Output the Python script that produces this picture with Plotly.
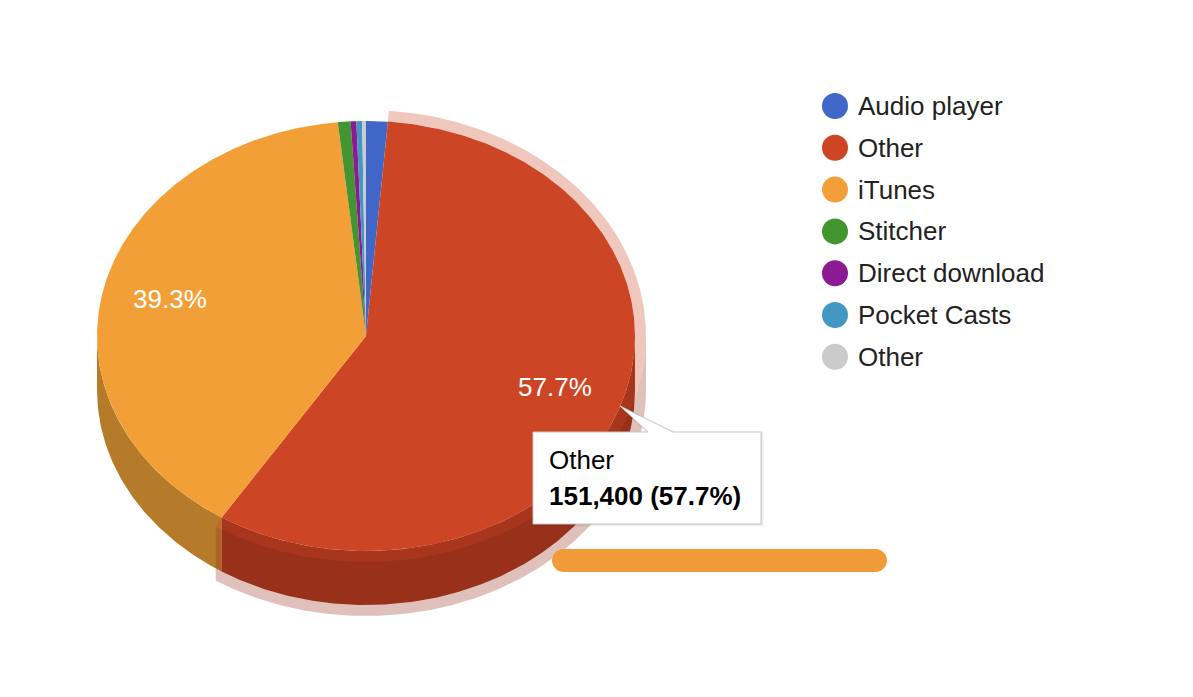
import numpy as np
import plotly.graph_objects as go

# ---- data ----
categories = ["Audio player", "Other", "iTunes", "Stitcher", "Direct download", "Pocket Casts", "Other"]
values = [3400, 151400, 103100, 2000, 900, 900, 600]
top_colors = ["#4066c8", "#cc4525", "#f39f38", "#43962f", "#8c1a92", "#4398c3", "#cbcbcb"]
wall_colors = ["#2d478c", "#98301a", "#b57b2a", "#2f691f", "#621266", "#2f6a88", "#8e8e8e"]
highlighted = 1
tooltip_lines = ["Other", "151,400 (57.7%)"]

# ---- geometry of the pseudo-3D pie (pixels) ----
W, H = 1193, 697
CX, CY, RX, RY, DEPTH, RING = 366, 336, 269, 215, 54, 11
LEG_X, LEG_TEXT_X, LEG_Y0, LEG_STEP = 835, 858, 106, 41.8
FONT = "Liberation Sans, Arial, sans-serif"

total = sum(values)
fractions = [v / total for v in values]
edges = np.concatenate([[0], np.cumsum(fractions)]) * 360.0


def arc(a0, a1, rx=RX, ry=RY, dy=0.0):
    n = max(2, int(abs(a1 - a0) * 2) + 2)
    t = np.radians(np.linspace(a0, a1, n))
    return CX + rx * np.sin(t), CY + dy - ry * np.cos(t)


fig = go.Figure()


def poly(xs, ys, color, name):
    fig.add_trace(go.Scatter(
        x=list(xs) + [xs[0]], y=list(ys) + [ys[0]], mode="lines", fill="toself",
        fillcolor=color, line=dict(width=0, color=color), name=name,
        hoverinfo="skip", showlegend=False))


def wall(a0, a1, rx, ry, color, name):
    """outer side of the disc for the part of the slice facing the viewer"""
    lo, hi = max(a0, 90.0), min(a1, 270.0)
    if hi <= lo:
        return
    x1, y1 = arc(lo, hi, rx, ry)
    x2, y2 = arc(hi, lo, rx, ry, DEPTH)
    poly(np.r_[x1, x2], np.r_[y1, y2], color, name)


a0h, a1h = edges[highlighted], edges[highlighted + 1]

# side walls: plain slices, then highlight wall, then highlighted wall
for i, (c, col) in enumerate(zip(categories, wall_colors)):
    if i != highlighted:
        wall(edges[i], edges[i + 1], RX, RY, col, c)
wall(a0h, a1h, RX + RING, RY + RING, "rgba(152,48,26,0.3)", "highlight")
wall(a0h, a1h, RX, RY, wall_colors[highlighted], categories[highlighted])

# top faces
for i, (c, col) in enumerate(zip(categories, top_colors)):
    x, y = arc(edges[i], edges[i + 1])
    poly(np.r_[CX, x], np.r_[CY, y], col, c)

# highlight ring on the top face
xo, yo = arc(a0h, a1h, RX + RING, RY + RING)
xi, yi = arc(a1h, a0h, RX, RY)
poly(np.r_[xo, xi], np.r_[yo, yi], "rgba(204,69,37,0.3)", "highlight")

# percent labels inside slices
lx, ly, lt = [], [], []
for i, f in enumerate(fractions):
    if f > 0.05:
        mid = np.radians((edges[i] + edges[i + 1]) / 2)
        lx.append(CX + 0.745 * RX * np.sin(mid) - 1)
        ly.append(CY - 0.745 * RY * np.cos(mid) + 2.5)
        lt.append(f"{f * 100:.1f}%")
fig.add_trace(go.Scatter(x=lx, y=ly, mode="text", text=lt, textposition="middle center",
                         textfont=dict(family=FONT, size=26, color="#ffffff"),
                         hoverinfo="skip", showlegend=False))

# legend
leg_y = [LEG_Y0 + LEG_STEP * i for i in range(len(categories))]
fig.add_trace(go.Scatter(
    x=[LEG_X] * len(categories), y=leg_y, mode="markers",
    marker=dict(size=26, color=top_colors, line=dict(width=0)),
    hoverinfo="skip", showlegend=False))
fig.add_trace(go.Scatter(
    x=[LEG_TEXT_X] * len(categories), y=[v + 2.5 for v in leg_y], mode="text",
    text=categories, textposition="middle right",
    textfont=dict(family=FONT, size=26, color="#222222"),
    hoverinfo="skip", showlegend=False))

# tooltip and the orange bar
TIP = "M533,432 L648,432 L620,406 L673,432 L761,432 L761,524 L533,524 Z"
TIP_SHADOW = "M534,433 L649,433 L621,407 L674,433 L762,433 L762,525 L534,525 Z"
BAR = ("M563.5,549 L875.5,549 C881.8,549 887,554.2 887,560.5 C887,566.8 881.8,572 875.5,572 L563.5,572 "
       "C557.2,572 552,566.8 552,560.5 C552,554.2 557.2,549 563.5,549 Z")
shapes = [
    dict(type="path", path=BAR, fillcolor="#f19a38", line=dict(width=0), layer="above"),
    dict(type="path", path=TIP_SHADOW, fillcolor="rgba(0,0,0,0.05)",
         line=dict(width=3, color="rgba(0,0,0,0.06)"), layer="above"),
    dict(type="path", path=TIP, fillcolor="#ffffff",
         line=dict(width=1, color="#c8c8c8"), layer="above"),
]
annotations = [
    dict(x=547, y=460, text=tooltip_lines[0], showarrow=False, xanchor="left", yanchor="middle",
         font=dict(family=FONT, size=26, color="#000000")),
    dict(x=547, y=496, text=f"<b>{tooltip_lines[1]}</b>", showarrow=False, xanchor="left", yanchor="middle",
         font=dict(family=FONT, size=26, color="#000000")),
]

fig.update_layout(
    width=W, height=H, autosize=False, margin=dict(l=0, r=0, t=0, b=0),
    paper_bgcolor="#ffffff", plot_bgcolor="#ffffff", showlegend=False,
    xaxis=dict(range=[0, W], visible=False, fixedrange=True),
    yaxis=dict(range=[H, 0], visible=False, fixedrange=True),
    shapes=shapes, annotations=annotations,
)
fig.write_html("out.html", config={"displayModeBar": False},
               post_script="document.body.style.margin='0';document.documentElement.style.overflow='hidden';")
